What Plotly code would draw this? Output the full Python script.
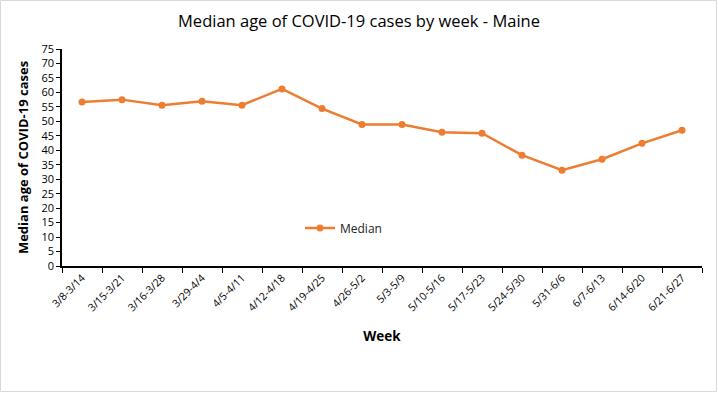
import plotly.graph_objects as go

weeks = ["3/8-3/14", "3/15-3/21", "3/16-3/28", "3/29-4/4", "4/5-4/11", "4/12-4/18",
         "4/19-4/25", "4/26-5/2", "5/3-5/9", "5/10-5/16", "5/17-5/23", "5/24-5/30",
         "5/31-6/6", "6/7-6/13", "6/14-6/20", "6/21-6/27"]
median_age = [56.7, 57.5, 55.6, 56.9, 55.6, 61.2, 54.4, 48.9, 48.9, 46.2, 45.9, 38.3,
              33.1, 36.9, 42.4, 46.9]
y_ticks = list(range(0, 80, 5))

W, H = 718, 393
ml, mr, mt, mb = 62, 16, 49, 127
pw, ph = W - ml - mr, H - mt - mb

fig = go.Figure()
fig.add_trace(go.Scatter(
    x=weeks, y=median_age, mode="lines+markers", name="Median",
    line=dict(color="#ED7D31", width=2.5),
    marker=dict(color="#ED7D31", size=7),
))

font = "Open Sans, Liberation Sans, sans-serif"
fig.update_layout(
    width=W, height=H,
    margin=dict(l=ml, r=mr, t=mt, b=mb, autoexpand=False),
    paper_bgcolor="white", plot_bgcolor="white",
    title=dict(text="Median age of COVID-19 cases by week - Maine",
               x=0.5, xanchor="center", y=1 - 21 / H, yanchor="middle",
               font=dict(family=font, size=16.5, color="black")),
    font=dict(family=font, color="black"),
    showlegend=True,
    legend=dict(x=(300 - ml) / pw, y=1 - (228 - mt) / ph, xanchor="left", yanchor="middle",
                bgcolor="rgba(0,0,0,0)", font=dict(size=12, color="#222")),
    xaxis=dict(
        type="category", tickson="boundaries", ticks="outside", ticklen=5,
        tickcolor="black", showline=True, linecolor="black", linewidth=1.5,
        showgrid=False, tickangle=-45, tickfont=dict(size=10.5, color="black"),
        automargin=False,
        title=dict(text="<b>Week</b>", font=dict(size=13.5), standoff=18),
        range=[-0.5, len(weeks) - 0.5],
    ),
    yaxis=dict(
        range=[0, 75], tickvals=y_ticks, ticks="outside", ticklen=4,
        tickcolor="black", showline=True, linecolor="black", linewidth=1.5,
        showgrid=False, zeroline=False, tickfont=dict(size=11, color="black"),
        automargin=False,
        title=dict(text="<b>Median age of COVID-19 cases</b>", font=dict(size=13), standoff=10),
    ),
    shapes=[dict(type="rect", xref="paper", yref="paper",
                 x0=(0.5 - ml) / pw, x1=(W - 1.5 - ml) / pw,
                 y0=-(mb - 1.5) / ph, y1=1 + (mt - 0.5) / ph,
                 line=dict(color="#D9D9D9", width=1))],
)

fig.write_html("out.html", config={"displayModeBar": False})

with open("out.html", encoding="utf-8") as f:
    html = f.read()
html = html.replace("<body>", '<body style="margin:0;padding:0;overflow:hidden">', 1)
with open("out.html", "w", encoding="utf-8") as f:
    f.write(html)
